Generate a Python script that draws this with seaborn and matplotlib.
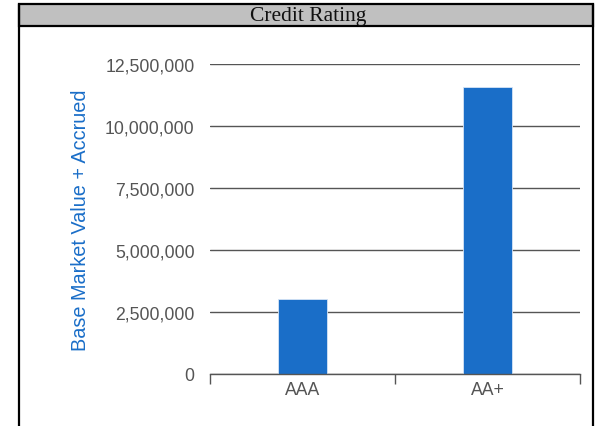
import matplotlib
matplotlib.use("Agg")
import matplotlib.pyplot as plt
from matplotlib.patches import Rectangle
from matplotlib.lines import Line2D
from matplotlib.ticker import FuncFormatter, FixedLocator
import seaborn as sns
import pandas as pd

categories = ["AAA", "AA+"]
values = [3020000, 11580000]
yticks = [0, 2500000, 5000000, 7500000, 10000000, 12500000]
title = "Credit Rating"
ylabel = "Base Market Value + Accrued"

sns.set_theme(style="white")
plt.rcParams["font.family"] = ["Liberation Sans", "DejaVu Sans"]

W, H = 595, 427
fig = plt.figure(figsize=(W / 100, H / 100), dpi=100)
fig.patch.set_facecolor("white")

def fx(x):
    return x / W

def fy(y):
    return 1 - y / H

# frame borders
fig.add_artist(Line2D([fx(19), fx(19)], [fy(5), 0], transform=fig.transFigure, color="black", lw=1.6))
fig.add_artist(Line2D([fx(593), fx(593)], [fy(5), 0], transform=fig.transFigure, color="black", lw=1.6))
fig.add_artist(Rectangle((fx(19), fy(27)), fx(593) - fx(19), fy(5) - fy(27), transform=fig.transFigure,
                         facecolor="#c0c0c0", edgecolor="black", lw=1.6))
fig.text(fx(308), fy(16), title, ha="center", va="center", fontsize=15.5,
         family=["Liberation Serif", "DejaVu Serif"], color="#111111")

ax = fig.add_axes([fx(210), fy(375), fx(580) - fx(210), fy(65) - fy(375)])
df = pd.DataFrame({"cat": categories, "val": values})
sns.barplot(data=df, x="cat", y="val", ax=ax, color="#1a6ec8", width=0.26,
            edgecolor="#d5e4f5", linewidth=0.6, saturation=1, zorder=3)

ax.set_xlim(-0.5, 1.5)
ax.set_ylim(0, 12500000)
ax.set_yticks(yticks)
ax.yaxis.set_major_formatter(FuncFormatter(lambda v, p: f"{int(v):,}"))
ax.yaxis.grid(True, color="#555555", lw=1.0, zorder=0)
ax.set_axisbelow(True)
ax.tick_params(axis="y", length=0, pad=11, labelsize=12.7, labelcolor="#555555")
ax.tick_params(axis="x", which="major", length=0, pad=5, labelsize=12.7, labelcolor="#555555")
ax.xaxis.set_minor_locator(FixedLocator([-0.5, 0.5, 1.5]))
ax.tick_params(axis="x", which="minor", length=7, width=1, color="#555555", bottom=True)

for s in ["left", "right", "top"]:
    ax.spines[s].set_visible(False)
ax.spines["bottom"].set_color("#555555")
ax.spines["bottom"].set_linewidth(1)
ax.spines["bottom"].set_zorder(4)

ax.set_xlabel("")
ax.set_ylabel(ylabel, color="#1a6ec8", fontsize=14.3)
ax.yaxis.set_label_coords((90 - 210) / 370, 0.5)

fig.savefig("out.png", dpi=100)
